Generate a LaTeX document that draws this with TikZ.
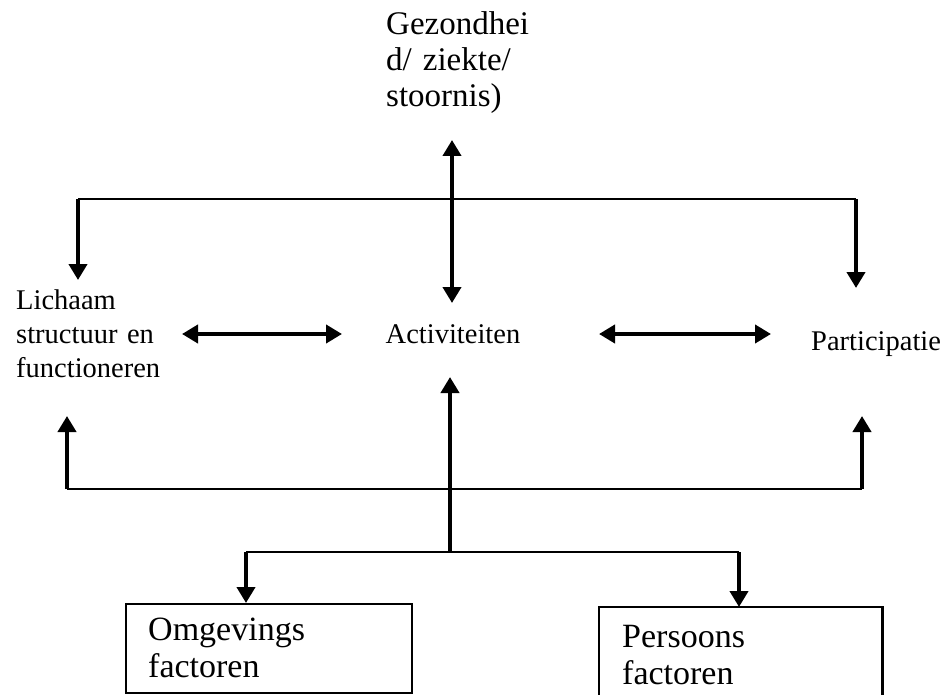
\documentclass[tikz,border=0pt]{standalone}
\usepackage{fontspec}
\setmainfont{Liberation Serif}
\usetikzlibrary{arrows.meta}
\begin{document}
\begin{tikzpicture}[x=1pt,y=-1pt,
  thinline/.style={line width=2pt},
  boxline/.style={line width=2.2pt},
  thickarrow/.style={line width=4.5pt,-{Triangle[length=16pt,width=18pt]}},
  dblarrow/.style={line width=4.5pt,{Triangle[length=16pt,width=18pt]}-{Triangle[length=16pt,width=18pt]}},
  txt/.style={inner sep=0pt,anchor=base west,align=left},
  toptxt/.style={txt,text width=150pt,font=\fontsize{33}{36}\selectfont},
  midtxt/.style={txt,font=\fontsize{28.5}{34}\selectfont},
  boxtxt/.style={txt,text width=175pt,font=\fontsize{34}{37}\selectfont}]
\useasboundingbox (0,0) rectangle (949,695);

% texts
\node[toptxt] (gez) at (386,35) {Gezondhei\\d/ ziekte/\\stoornis)};
\node[midtxt,text width=165pt] (lich) at (16,309) {Lichaam\\structuur en\\functioneren};
\node[midtxt,anchor=base] (act) at (453,343) {Activiteiten};
\node[midtxt] (part) at (811,350) {Participatie};

% boxes
\node[draw,boxline,minimum width=286pt,minimum height=89pt,inner sep=0pt,anchor=north west] (ob) at (125,603) {};
\node[boxtxt] (obt) at (148,640) {Omgevings\\factoren};
\node[minimum width=283pt,minimum height=88pt,inner sep=0pt,anchor=north west] (pb) at (599,607) {};
\draw[boxline] (pb.south west) -- (pb.north west) -- (pb.north east) -- (pb.south east);
\node[boxtxt] (pbt) at (622,647) {Persoons\\factoren};

% top distribution
\coordinate (tl) at (78,199);
\coordinate (tr) at (856,199);
\coordinate (ltip) at (78,280);
\coordinate (rtip) at (856,288);
\draw[thinline] (tl) -- (tr);
\draw[thickarrow] (tl) -- (ltip);
\draw[thickarrow] (tr) -- (rtip);

% health vertical double arrow
\coordinate (gtop) at (452,140);
\coordinate (gbot) at (452,303);
\draw[dblarrow] (gtop) -- (gbot);

% horizontal double arrows
\coordinate (h1a) at (182,334);
\coordinate (h1b) at (342,334);
\coordinate (h2a) at (599,334);
\coordinate (h2b) at (771,334);
\draw[dblarrow] (h1a) -- (h1b);
\draw[dblarrow] (h2a) -- (h2b);

% lower feedback
\coordinate (bl) at (67,489);
\coordinate (br) at (862,489);
\coordinate (bltip) at (67,416);
\coordinate (brtip) at (862,416);
\draw[thinline] (bl) -- (br);
\draw[thickarrow] (bl) -- (bltip);
\draw[thickarrow] (br) -- (brtip);

% central up arrow
\coordinate (bc) at (450,552);
\coordinate (bctip) at (450,377);
\draw[thickarrow] (bc) -- (bctip);

% factor branch
\coordinate (bbl) at (246,552);
\coordinate (bbr) at (739,552);
\draw[thinline] (bbl) -- (bbr);
\draw[thickarrow] (bbl) -- (bbl |- ob.north);
\draw[thickarrow] (bbr) -- (bbr |- pb.north);
\end{tikzpicture}
\end{document}
